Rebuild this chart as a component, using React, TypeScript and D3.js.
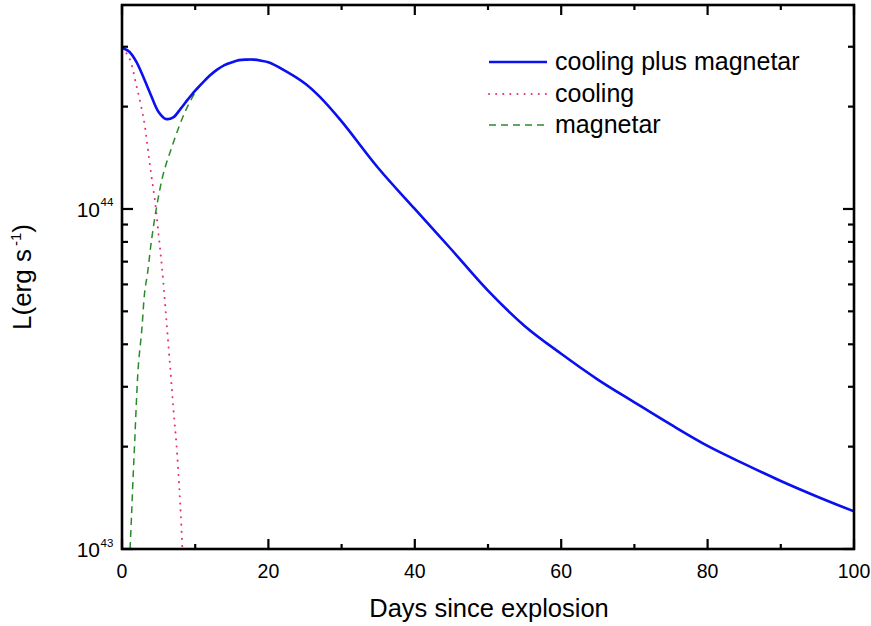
import React from "react";
import * as d3 from "d3";

const totalDays = [0,1,2,3,4,5,6,7,8,9,10,11,12,13,14,15,16,17,18,19,20,22,25,27,30,35,40,45,50,55,60,65,70,75,80,85,90,95,100];
const totalL = [2.98e44,2.9e44,2.7e44,2.42e44,2.15e44,1.93e44,1.84e44,1.86e44,1.97e44,2.1e44,2.23e44,2.35e44,2.47e44,2.57e44,2.65e44,2.7e44,2.74e44,2.75e44,2.75e44,2.73e44,2.7e44,2.57e44,2.34e44,2.14e44,1.81e44,1.32e44,1.0e44,7.6e43,5.75e43,4.53e43,3.75e43,3.15e43,2.7e43,2.32e43,2.01e43,1.78e43,1.585e43,1.425e43,1.29e43];

const coolingDays = [0,1,2,3,3.5,4,4.5,5,5.5,6,6.5,7,7.5,8,8.25];
const coolingL = [2.98e44,2.78e44,2.29e44,1.82e44,1.52e44,1.26e44,1.06e44,8.4e43,6.6e43,4.9e43,3.6e43,2.62e43,1.95e43,1.3e43,1.0e43];

const magnetarDays = [1.1,1.3,1.5,1.75,2,2.25,2.7,3.1,3.5,4,4.75,5.65,6.8,7.9,8.8,10,11,12,13,14,15,16,17,18,19,20,22,25,27,30,35,40,45,50,55,60,65,70,75,80,85,90,95,100];
const magnetarL = [1.0e43,1.25e43,1.6e43,2.1e43,2.8e43,3.5e43,4.4e43,5.7e43,6.5e43,8.0e43,1.02e44,1.27e44,1.52e44,1.77e44,1.97e44,2.2e44,2.35e44,2.47e44,2.57e44,2.65e44,2.7e44,2.74e44,2.75e44,2.75e44,2.73e44,2.7e44,2.57e44,2.34e44,2.14e44,1.81e44,1.32e44,1.0e44,7.6e43,5.75e43,4.53e43,3.75e43,3.15e43,2.7e43,2.32e43,2.01e43,1.78e43,1.585e43,1.425e43,1.29e43];

const xMajorTicks = [0,20,40,60,80,100];
const xMinorTicks = [10,30,50,70,90];
const yMajorTicks = [1e43,1e44];
const yMajorExp = ["43","44"];
const yMinorTicks = [2e43,3e43,4e43,5e43,6e43,7e43,8e43,9e43,2e44,3e44];

const legendLabels = ["cooling plus magnetar","cooling","magnetar"];

const W = 871, H = 626;
const L0 = 122, R0 = 854, T0 = 5, B0 = 549;
const FONT = "'Liberation Sans', Arial, sans-serif";

export default function App() {
  const x = d3.scaleLinear().domain([0, 100]).range([L0, R0]);
  const y = d3.scaleLog().domain([1e43, 3.98e44]).range([B0, T0]);
  const line = d3.line<[number, number]>().x(d => x(d[0])).y(d => y(d[1])).curve(d3.curveCatmullRom.alpha(0.5));
  const totalPath = line(totalDays.map((d, i) => [d, totalL[i]]) as [number, number][]) || "";
  const coolPath = line(coolingDays.map((d, i) => [d, coolingL[i]]) as [number, number][]) || "";
  const magPath = line(magnetarDays.map((d, i) => [d, magnetarL[i]]) as [number, number][]) || "";

  const blue = "#0a10f0";
  const pink = "#e8307a";
  const green = "#2a8a2a";
  const styles = [
    { stroke: blue, width: 2.6, dash: undefined as string | undefined, cap: "butt" },
    { stroke: pink, width: 2, dash: "0.1,7", cap: "round" },
    { stroke: green, width: 1.5, dash: "7,5", cap: "butt" },
  ];
  const legendY = [62, 94, 125];

  return (
    <svg width={W} height={H} style={{ position: "absolute", left: 0, top: 0, background: "#fff" }} fontFamily={FONT}>
      <defs>
        <clipPath id="plotclip">
          <rect x={L0} y={T0} width={R0 - L0} height={B0 - T0} />
        </clipPath>
      </defs>
      <rect x={0} y={0} width={W} height={H} fill="#fff" />
      <g clipPath="url(#plotclip)" fill="none">
        <path d={coolPath} stroke={pink} strokeWidth={2} strokeDasharray="0.1,7" strokeLinecap="round" />
        <path d={magPath} stroke={green} strokeWidth={1.5} strokeDasharray="7,5" />
        <path d={totalPath} stroke={blue} strokeWidth={2.6} />
      </g>
      {/* frame */}
      <rect x={L0} y={T0} width={R0 - L0} height={B0 - T0} fill="none" stroke="#000" strokeWidth={2.6} />
      {/* x ticks */}
      {xMajorTicks.map(t => (
        <g key={"xm" + t}>
          <line x1={x(t)} x2={x(t)} y1={B0} y2={B0 - 10} stroke="#000" strokeWidth={2.2} />
          <line x1={x(t)} x2={x(t)} y1={T0} y2={T0 + 10} stroke="#000" strokeWidth={2.2} />
          <text x={x(t)} y={578} textAnchor="middle" fontSize={19.5} fill="#000">{t}</text>
        </g>
      ))}
      {xMinorTicks.map(t => (
        <g key={"xn" + t}>
          <line x1={x(t)} x2={x(t)} y1={B0} y2={B0 - 5} stroke="#000" strokeWidth={2.2} />
          <line x1={x(t)} x2={x(t)} y1={T0} y2={T0 + 5} stroke="#000" strokeWidth={2.2} />
        </g>
      ))}
      {/* y ticks */}
      {yMajorTicks.map((t, i) => (
        <g key={"ym" + t}>
          <line x1={L0} x2={L0 + 11} y1={y(t)} y2={y(t)} stroke="#000" strokeWidth={2.2} />
          <line x1={R0} x2={R0 - 11} y1={y(t)} y2={y(t)} stroke="#000" strokeWidth={2.2} />
          <text x={100} y={y(t) + 8} textAnchor="end" fontSize={21} fill="#000">10</text>
          <text x={100.5} y={y(t) - 2.5} textAnchor="start" fontSize={11.5} fill="#000">{yMajorExp[i]}</text>
        </g>
      ))}
      {yMinorTicks.map(t => (
        <g key={"yn" + t}>
          <line x1={L0} x2={L0 + 6} y1={y(t)} y2={y(t)} stroke="#000" strokeWidth={2.2} />
          <line x1={R0} x2={R0 - 6} y1={y(t)} y2={y(t)} stroke="#000" strokeWidth={2.2} />
        </g>
      ))}
      {/* axis titles */}
      <text x={(L0 + R0) / 2 + 1} y={617} textAnchor="middle" fontSize={25.5} fill="#000">Days since explosion</text>
      <text transform={`translate(31, ${(T0 + B0) / 2}) rotate(-90)`} textAnchor="middle" fontSize={26} fill="#000">
        L(erg s<tspan dx={3} dy={-10} fontSize={15}>-1</tspan><tspan dy={10}>)</tspan>
      </text>
      {/* legend */}
      {legendLabels.map((lab, i) => (
        <g key={lab}>
          <line x1={489} x2={547} y1={legendY[i]} y2={legendY[i]} stroke={styles[i].stroke} strokeWidth={styles[i].width}
            strokeDasharray={styles[i].dash} strokeLinecap={styles[i].cap as any} />
          <text x={555} y={legendY[i] + 8} fontSize={25} fill="#000">{lab}</text>
        </g>
      ))}
    </svg>
  );
}
